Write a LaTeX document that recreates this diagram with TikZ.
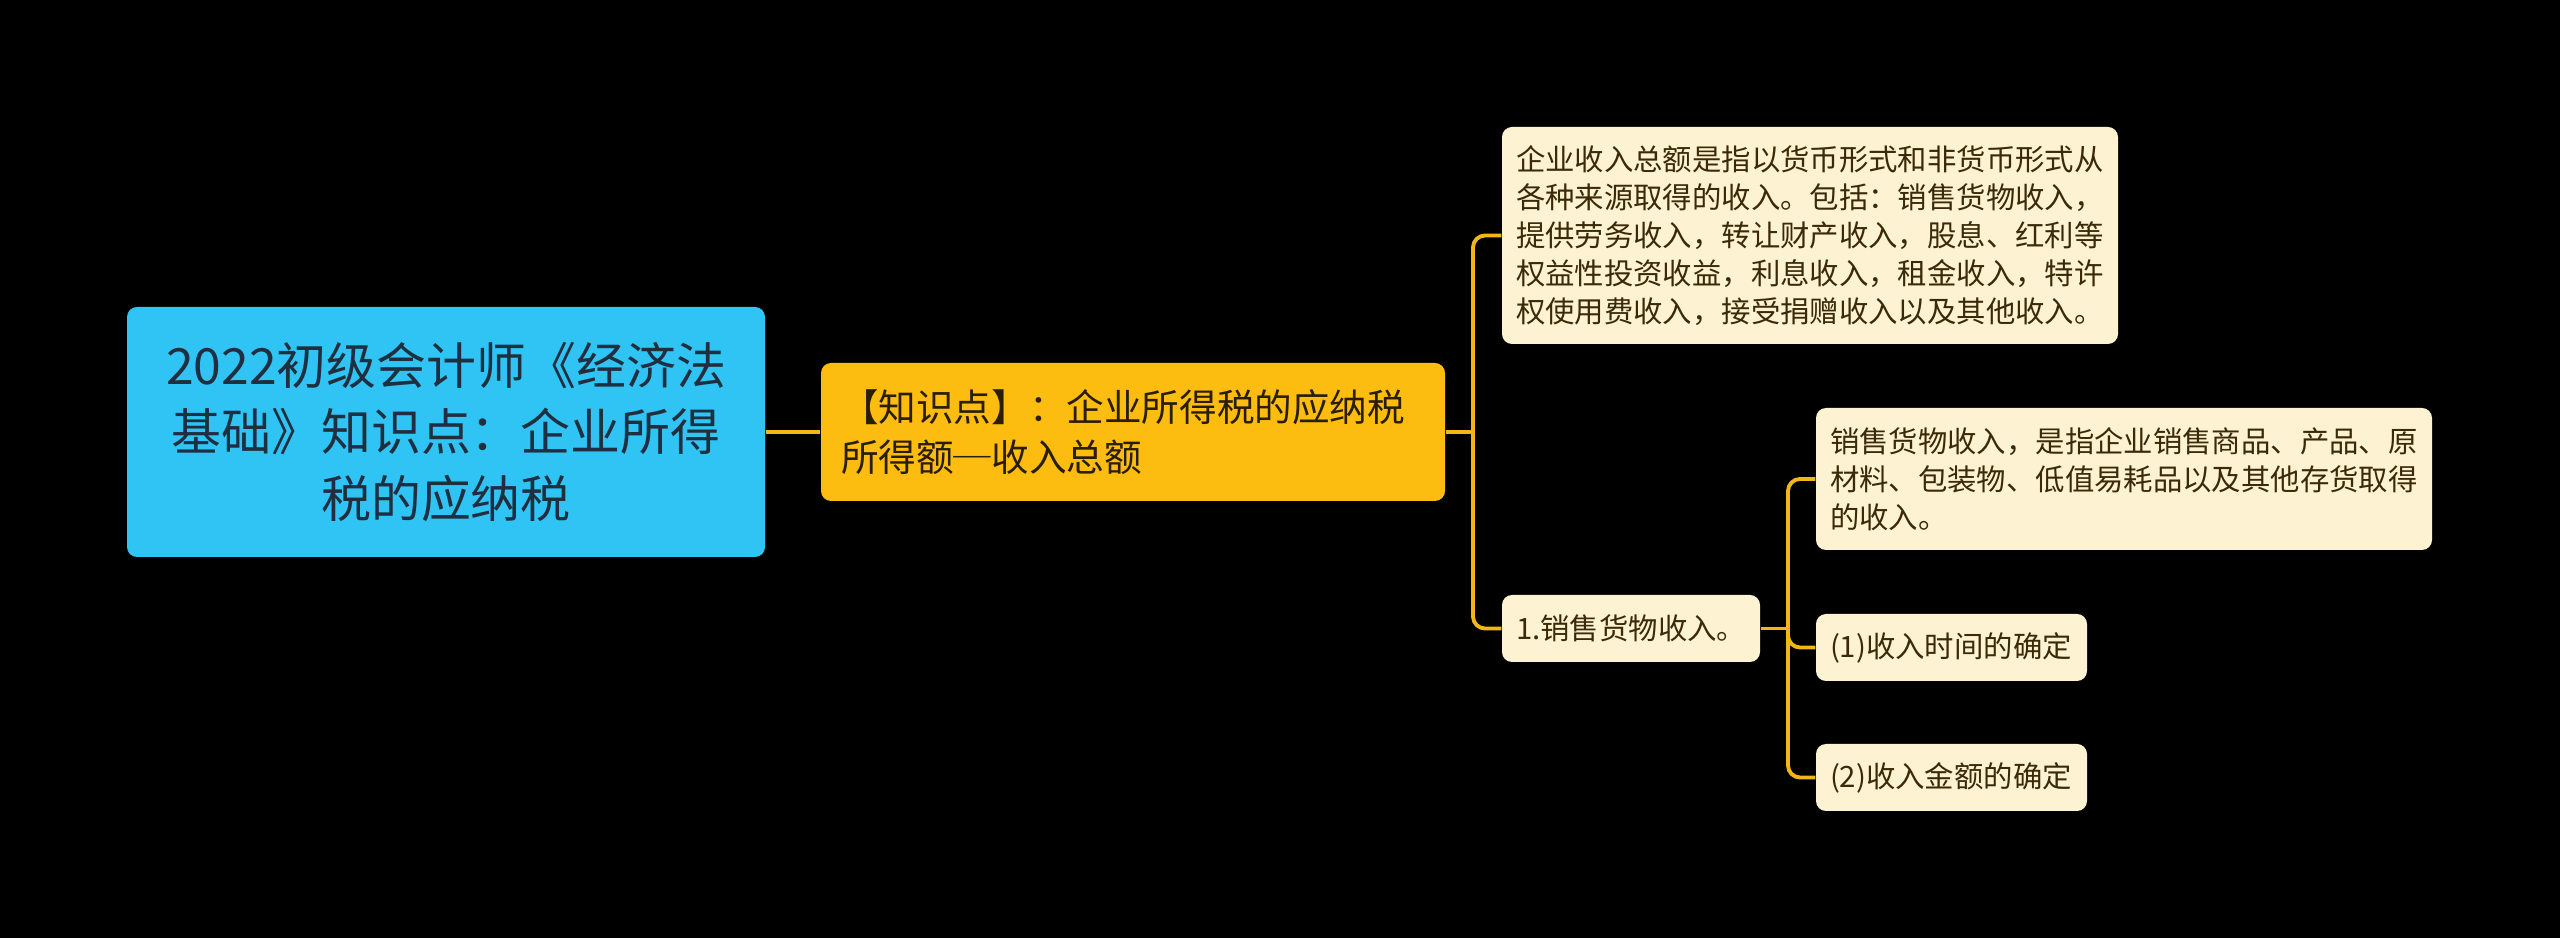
\documentclass[tikz,border=0pt]{standalone}
\usepackage{fontspec}
\setmainfont{Noto Sans CJK SC}
\definecolor{rootblue}{HTML}{30C4F5}
\definecolor{roottext}{HTML}{1F2F3F}
\definecolor{mainyellow}{HTML}{FDBD10}
\definecolor{maintext}{HTML}{2A1E00}
\definecolor{leafcream}{HTML}{FDF2D2}
\definecolor{leaftext}{HTML}{3A2A08}
\definecolor{linkgold}{HTML}{F2B616}
\begin{document}
\begin{tikzpicture}[
        rootbox/.style={fill=rootblue, text=roottext, rounded corners=0.1cm,
            align=center, inner sep=0pt,
            font=\fontsize{14.2pt}{18.8pt}\selectfont},
        mainbox/.style={fill=mainyellow, text=maintext, rounded corners=0.1cm,
            align=left, inner xsep=0.2cm, inner ysep=0pt, anchor=center,
            font=\fontsize{10.7pt}{14.2pt}\selectfont},
        leafbox/.style={fill=leafcream, text=leaftext, rounded corners=0.1cm,
            align=left, inner xsep=0.14cm, inner ysep=0pt,
            font=\fontsize{8.36pt}{10.8pt}\selectfont},
        link/.style={draw=linkgold, line width=1.1pt, rounded corners=0.12cm}
    ]
    \fill [black] (0, 0) rectangle (25.6, 9.38);
    \useasboundingbox (0, 0) rectangle (25.6, 9.38);
    % boxes
    \node [rootbox, minimum width=6.38cm, minimum height=2.5cm] (root) at (4.46, 5.06)
        {2022初级会计师《经济法\\基础》知识点：企业所得\\税的应纳税};
    \node [mainbox, text width=5.84cm, minimum height=1.38cm] (income) at (11.33, 5.06)
        {【知识点】：企业所得税的应纳税\\所得额─收入总额};
    \node [leafbox, text width=5.88cm, minimum height=2.17cm] (total) at (18.10, 7.025)
        {企业收入总额是指以货币形式和非货币形式从\\各种来源取得的收入。包括：销售货物收入，\\提供劳务收入，转让财产收入，股息、红利等\\权益性投资收益，利息收入，租金收入，特许\\权使用费收入，接受捐赠收入以及其他收入。};
    \node [leafbox, text width=2.30cm, minimum height=0.67cm] (sales) at (16.31, 3.095)
        {1.销售货物收入。};
    \node [leafbox, text width=5.88cm, minimum height=1.42cm] (salesdef) at (21.24, 4.59)
        {销售货物收入，是指企业销售商品、产品、原\\材料、包装物、低值易耗品以及其他存货取得\\的收入。};
    \node [leafbox, text width=2.43cm, minimum height=0.67cm] (salestime) at (19.515, 2.905)
        {(1)收入时间的确定};
    \node [leafbox, text width=2.43cm, minimum height=0.67cm] (salesamount) at (19.515, 1.605)
        {(2)收入金额的确定};
    % links
    \coordinate (j1) at (14.73, 5.06);
    \coordinate (j2) at (17.88, 3.095);
    \draw [link] (root.east) -- (income.west);
    \draw [link] (income.east) -- (j1);
    \draw [link] (j1) |- (total.west);
    \draw [link] (j1) |- (sales.west);
    \draw [link] (sales.east) -- (j2);
    \draw [link] (j2) |- (salesdef.west);
    \draw [link] (j2) |- (salestime.west);
    \draw [link] (j2) |- (salesamount.west);
\end{tikzpicture}
\end{document}
